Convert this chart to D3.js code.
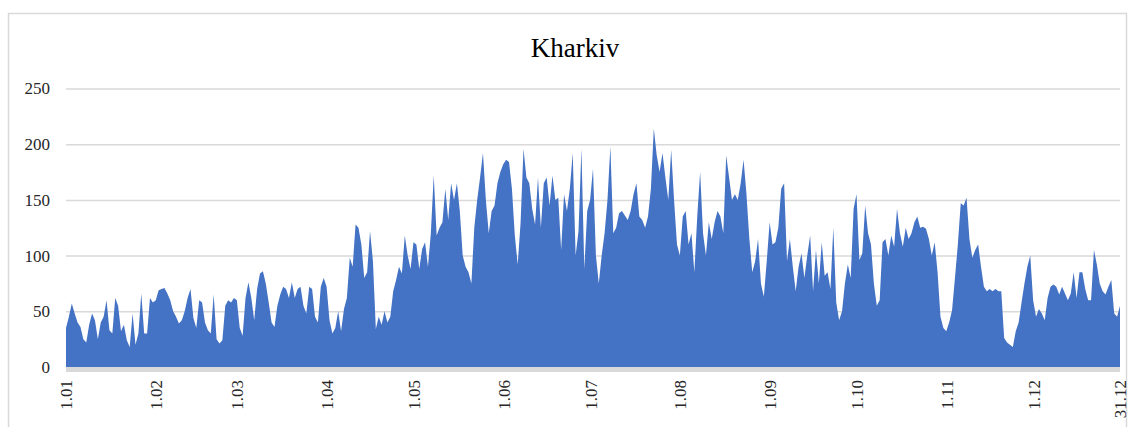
<!DOCTYPE html>
<html lang="en">
<head>
<meta charset="UTF-8">
<title>Kharkiv</title>
<style>
  body { margin: 0; background: #fff; }
  svg { display: block; }
  .tick text { font-family: "Liberation Serif", "Times New Roman", serif; fill: #262626; }
</style>
</head>
<body>
<script src="https://cdn.jsdelivr.net/npm/d3@7"></script>
<script>
// daily values, one array per month
var jan = [35,45,57,48,40,36,25,22,38,48,42,25,40,45,60,33,30,62,55,32,38,24,18,48,20,30,66,30,30,62,58];
var feb = [60,69,70,71,66,60,50,45,39,42,50,62,70,44,35,60,58,40,33,30,65,25,21,24,55,60,58,62];
var mar = [60,35,28,62,76,62,42,70,84,86,75,58,40,36,55,65,72,70,62,76,62,70,72,55,48,72,70,45,40,72,80];
var apr = [72,42,30,35,50,32,52,62,98,90,128,125,110,80,85,122,95,34,45,38,50,40,45,68,78,90,84,118,100,88];
var may = [112,110,88,106,112,90,120,172,118,125,130,160,132,165,150,165,140,100,90,85,75,125,150,170,192,150,120,140,145,165,175];
var jun = [182,186,184,160,118,92,130,196,170,165,142,128,170,125,165,170,145,172,150,152,105,155,140,160,192,100,122,196,88,140];
var jul = [150,178,100,75,100,120,150,198,120,125,138,140,136,132,140,155,165,135,132,125,135,160,214,190,175,192,170,150,195,150,110];
var aug = [100,135,140,110,120,85,135,175,120,100,130,115,130,140,135,120,190,170,150,155,150,165,186,155,115,85,95,115,75,63,95];
var sep = [130,110,112,125,160,165,95,115,90,68,90,102,80,100,118,68,105,75,112,82,85,70,125,58,42,50,75,92,80,142];
var oct = [155,96,102,145,120,110,75,55,60,112,115,100,118,108,142,120,108,125,115,120,130,135,125,126,124,115,100,112,85,45,35];
var nov = [32,40,51,80,110,147,145,152,115,98,105,110,90,72,68,70,68,70,68,68,26,22,20,18,32,40,58,75,90,100];
var dec = [60,45,52,48,42,62,72,74,72,65,72,66,60,66,85,62,85,85,70,60,60,105,92,75,68,65,72,78,48,45,55];

var values = [].concat(jan, feb, mar, apr, may, jun, jul, aug, sep, oct, nov, dec);

var xTickDays = [0, 31, 59, 90, 120, 151, 181, 212, 243, 273, 304, 334, 364];
var xTickLabels = ["1.01","1.02","1.03","1.04","1.05","1.06","1.07","1.08","1.09","1.10","1.11","1.12","31.12"];
var yTicks = [0, 50, 100, 150, 200, 250];

var W = 1130, H = 427;
var plotL = 66, plotR = 1120, plotT = 88.5, plotB = 367;

var svg = d3.select("body").append("svg")
    .attr("width", W)
    .attr("height", H);

// chart border
svg.append("rect")
    .attr("x", 8.5).attr("y", 13.5)
    .attr("width", 1118).attr("height", 440)
    .attr("fill", "#fff")
    .attr("stroke", "#d9d9d9")
    .attr("stroke-width", 1.5);

var x = d3.scaleLinear().domain([0, values.length - 1]).range([plotL, plotR]);
var y = d3.scaleLinear().domain([0, 250]).range([plotB, plotT]);

// gridlines + y labels
var yAxis = svg.append("g")
    .attr("transform", "translate(" + plotL + ",0)")
    .call(d3.axisLeft(y).tickValues(yTicks).tickSize(-(plotR - plotL)).tickPadding(16));
yAxis.select(".domain").remove();
yAxis.selectAll(".tick line").attr("stroke", "#d9d9d9").attr("stroke-width", 1.5);
yAxis.selectAll(".tick text").style("font-size", "17px");

// zero band
svg.append("line")
    .attr("x1", plotL).attr("x2", plotR)
    .attr("y1", y(0) + 2.5).attr("y2", y(0) + 2.5)
    .attr("stroke", "#d9d9d9")
    .attr("stroke-width", 5);

var area = d3.area()
    .x(function(d, i) { return x(i); })
    .y0(y(0))
    .y1(function(d) { return y(d); });

svg.append("path")
    .datum(values)
    .attr("fill", "#4472c4")
    .attr("d", area);

// x labels, rotated
var xAxis = svg.append("g")
    .attr("transform", "translate(0," + (plotB + 13) + ")")
    .call(d3.axisBottom(x).tickValues(xTickDays).tickSize(0).tickPadding(0)
        .tickFormat(function(d, i) { return xTickLabels[i]; }));
xAxis.select(".domain").remove();
xAxis.selectAll(".tick text")
    .style("font-size", "17px")
    .attr("transform", "rotate(-90)")
    .attr("text-anchor", "end")
    .attr("x", 0).attr("y", 0)
    .attr("dy", "0.35em");

svg.append("text")
    .attr("x", 575).attr("y", 57)
    .attr("text-anchor", "middle")
    .style("font-family", "'Liberation Serif', 'Times New Roman', serif")
    .style("font-size", "27px")
    .attr("fill", "#000")
    .text("Kharkiv");
</script>
</body>
</html>
